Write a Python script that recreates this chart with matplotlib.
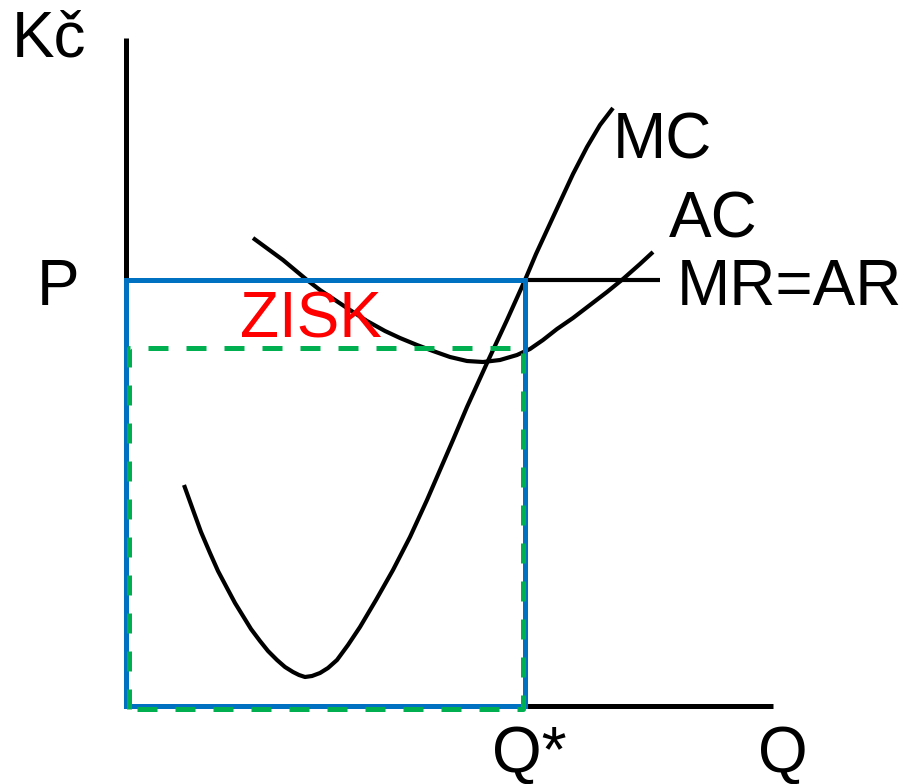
import matplotlib
matplotlib.use("Agg")
import matplotlib.pyplot as plt

# ---- data (quantity on x, price in Kč on y; arbitrary units) ----
mc_q = [58, 67, 75, 84, 92, 101, 109, 117, 125, 134, 142, 151, 159, 167, 173, 179, 186, 194,
        202, 211, 222, 234, 250, 267, 284, 301, 314, 327, 341, 361, 381, 399, 410, 422,
        434, 447, 461, 474, 487]
mc_p = [221, 196, 174, 153, 135, 118, 103, 90, 77, 65, 55, 46, 39, 34, 31, 29, 30, 33,
        38, 46, 61, 79, 106, 136, 169, 206, 236, 266, 299, 343, 386, 426, 452, 478,
        504, 532, 559, 581, 598]

ac_q = [127, 142, 157, 169, 181, 194, 209, 224, 241, 259, 274, 291, 307, 324, 341, 357,
        374, 391, 404, 417, 431, 447, 464, 481, 497, 514, 527]
ac_p = [468, 457, 446, 436, 426, 416, 406, 396, 385, 375, 368, 361, 355, 349, 345, 344,
        346, 351, 357, 366, 377, 388, 401, 414, 427, 442, 454]

price_P = 426          # MR = AR
q_star = 399           # optimum quantity Q*
ac_at_qstar = 358      # average cost at Q*
mr_end_q = 534
y_axis_top = 668
x_axis_end = 647

labels = {"Kč": (-114, 650), "P": (-89, 401), "MC": (487, 548), "AC": (543, 469),
          "MR=AR": (551, 401), "Q*": (366, -66), "Q": (632, -66)}
profit_label = ("ZISK", (114, 369))

# ---- figure ----
fig = plt.figure(figsize=(9.02, 7.84), dpi=100)
ax = fig.add_axes([0, 0, 1, 1])
ax.set_xlim(-126, 776)
ax.set_ylim(-78, 706)
ax.axis("off")

font = ["Liberation Sans", "DejaVu Sans"]

# axes
ax.plot([0, 0], [0, y_axis_top], color="black", lw=3.6, solid_capstyle="butt", zorder=2)
ax.plot([0, x_axis_end], [0, 0], color="black", lw=3.6, solid_capstyle="butt", zorder=2)

# curves
ax.plot(mc_q, mc_p, color="black", lw=3.0, solid_capstyle="butt", solid_joinstyle="round", zorder=3)
ax.plot(ac_q, ac_p, color="black", lw=3.0, solid_capstyle="butt", solid_joinstyle="round", zorder=3)
ax.plot([q_star, mr_end_q], [price_P, price_P], color="black", lw=3.0, solid_capstyle="butt", zorder=3)

# revenue rectangle (blue)
ax.plot([0, q_star, q_star, 0, 0], [0, 0, price_P, price_P, 0],
        color="#0070C0", lw=3.6, solid_joinstyle="miter", zorder=4)

# cost rectangle (green dashed)
ax.plot([3, 3, q_star - 2, q_star - 2, 3], [-3, ac_at_qstar, ac_at_qstar, -3, -3],
        color="#00B050", lw=3.6, linestyle=(0, (4, 3.6)), zorder=5)

# labels
for txt, (x, y) in labels.items():
    ax.text(x, y, txt, fontsize=46, family=font, color="black", ha="left", va="baseline")
ax.text(profit_label[1][0], profit_label[1][1], profit_label[0], fontsize=46, family=font,
        color="#FF0000", ha="left", va="baseline")

fig.savefig("out.png", dpi=100)
